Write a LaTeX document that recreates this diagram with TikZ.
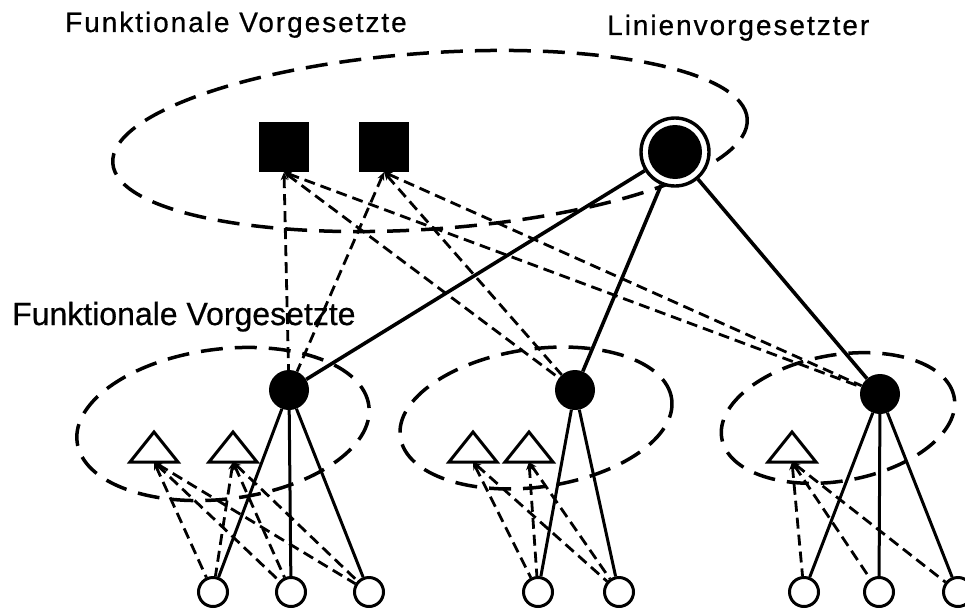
\documentclass[tikz,border=0pt]{standalone}
\usepackage{fontspec}
\setmainfont{Liberation Sans}[FakeBold=0.6]
\newfontfamily\spacedfont{Liberation Sans}[LetterSpace=7,FakeBold=0.6]
\usetikzlibrary{arrows.meta,backgrounds}
\begin{document}
\begin{tikzpicture}[x=1pt,y=-1pt,
  boss/.style={rectangle, fill=black, minimum size=50pt, inner sep=0pt},
  head/.style={circle, fill=black, minimum size=40pt, inner sep=0pt},
  worker/.style={circle, draw=black, fill=white, line width=3pt, minimum size=29pt, inner sep=0pt},
  lineboss/.style={circle, draw=black, fill=white, line width=3.4pt, minimum size=68pt, inner sep=0pt},
  linecore/.style={circle, fill=black, minimum size=54pt, inner sep=0pt},
  solidlink/.style={line width=3.6pt},
  sublink/.style={line width=3pt},
  fnlink/.style={line width=2.8pt, dash pattern=on 11pt off 6pt, {Stealth[length=8pt,width=7pt]}-},
  group/.style={line width=3.5pt, dash pattern=on 22pt off 12pt},
  toplabel/.style={anchor=base west, inner sep=0pt, font=\fontsize{28pt}{30pt}\spacedfont},
  midlabel/.style={anchor=base west, inner sep=0pt, font=\fontsize{32pt}{34pt}\selectfont},
  tri/.pic={\draw[line width=3pt, fill=white, line join=miter] (-24,0) -- (0,-30) -- (24,0) -- cycle;}
]
\useasboundingbox (0,0) rectangle (965,610);

% labels
\node[toplabel] (tl) at (65,32) {Funktionale Vorgesetzte};
\node[toplabel] (tr) at (607,35) {Linienvorgesetzter};
\node[midlabel] (ml) at (12,325) {Funktionale Vorgesetzte};

% upper level
\node[boss] (sq1) at (284,147) {};
\node[boss] (sq2) at (384,147) {};
\node[lineboss] (L) at (675,152) {};
\node[linecore] (Lcore) at (L) {};

% middle level
\node[head] (m1) at (289,390) {};
\node[head] (m2) at (575,390) {};
\node[head] (m3) at (880,394) {};

% staff positions (triangles), anchored at the base centre
\coordinate (t1) at (154,462);
\coordinate (t2) at (233,462);
\coordinate (t3) at (473,462);
\coordinate (t4) at (529,462);
\coordinate (t5) at (792,462);
\foreach \t in {t1,t2,t3,t4,t5} \pic at (\t) {tri};

% bottom level
\node[worker] (b1) at (213,592) {};
\node[worker] (b2) at (291,592) {};
\node[worker] (b3) at (369,592) {};
\node[worker] (b4) at (538,592) {};
\node[worker] (b5) at (619,592) {};
\node[worker] (b6) at (804,592) {};
\node[worker] (b7) at (879,592) {};
\node[worker] (b8) at (958,592) {};

\begin{scope}[on background layer]
  \fill[white] (0,0) rectangle (965,610);

  % dashed groupings
  \draw[group, rotate around={4:(430,141)}] (430,141) ellipse [x radius=318pt, y radius=88pt];
  \draw[group, rotate around={7:(223,424)}] (223,424) ellipse [x radius=147pt, y radius=75pt];
  \draw[group, rotate around={8:(536,418)}] (536,418) ellipse [x radius=137pt, y radius=69pt];
  \draw[group, rotate around={10:(838,418)}] (838,418) ellipse [x radius=118pt, y radius=63pt];

  % line authority
  \draw[solidlink] (L) -- (m1);
  \draw[solidlink] (L) -- (m2);
  \draw[solidlink] (L) -- (m3);
  \draw[sublink] (m1) -- (b1);
  \draw[sublink] (m1) -- (b2);
  \draw[sublink] (m1) -- (b3);
  \draw[sublink] (m2) -- (b4);
  \draw[sublink] (m2) -- (b5);
  \draw[sublink] (m3) -- (b6);
  \draw[sublink] (m3) -- (b7);
  \draw[sublink] (m3) -- (b8);

  % functional relations, upper level
  \foreach \s in {sq1,sq2}
    \foreach \m in {m1,m2,m3}
      \draw[fnlink] (\s.south) -- (\m);

  % functional relations, lower level
  \foreach \t in {t1,t2}
    \foreach \b in {b1,b2,b3}
      \draw[fnlink] (\t) -- (\b);
  \foreach \t in {t3,t4}
    \foreach \b in {b4,b5}
      \draw[fnlink] (\t) -- (\b);
  \foreach \b in {b6,b7,b8}
    \draw[fnlink] (t5) -- (\b);
\end{scope}
\end{tikzpicture}
\end{document}
